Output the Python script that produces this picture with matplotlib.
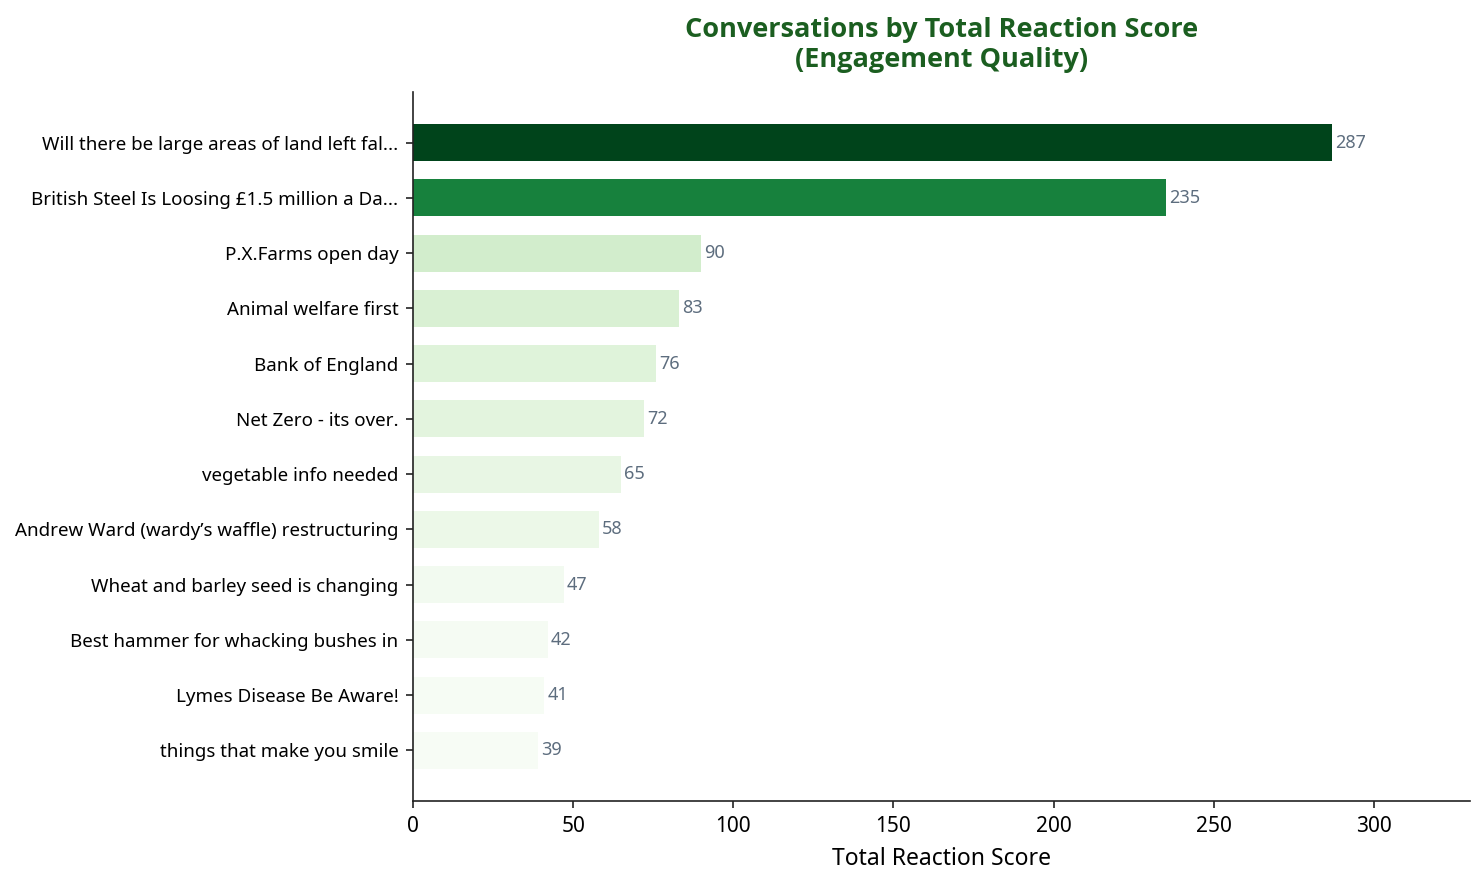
import matplotlib
matplotlib.use("Agg")
import matplotlib.pyplot as plt
from matplotlib import cm
from matplotlib.colors import Normalize

plt.rcParams['font.family'] = ['Noto Sans', 'DejaVu Sans']

titles = [
    "Will there be large areas of land left fal...",
    "British Steel Is Loosing £1.5 million a Da...",
    "P.X.Farms open day",
    "Animal welfare first",
    "Bank of England",
    "Net Zero - its over.",
    "vegetable info needed",
    "Andrew Ward (wardy\u2019s waffle) restructuring",
    "Wheat and barley seed is changing",
    "Best hammer for whacking bushes in",
    "Lymes Disease Be Aware!",
    "things that make you smile",
]
scores = [287, 235, 90, 83, 76, 72, 65, 58, 47, 42, 41, 39]

DPI = 150
fig = plt.figure(figsize=(1484 / DPI, 885 / DPI), dpi=DPI)
ax = fig.add_axes([413/1484, 1 - 801/885, (1470-413)/1484, (801-92)/885])

norm = Normalize(vmin=min(scores), vmax=max(scores))
colors = [cm.Greens(norm(v)) for v in scores]

ypos = list(range(len(titles)))[::-1]
ax.barh(ypos, scores, height=0.67, color=colors)
ax.set_yticks(ypos)
ax.set_yticklabels(titles, fontsize=9)
ax.set_xlim(0, max(scores) * 1.15)

for y, v in zip(ypos, scores):
    ax.text(v + 1, y, str(v), va='center', ha='left', fontsize=8.7, color='#5d6d7e')

ax.set_xlabel("Total Reaction Score", fontsize=11, labelpad=4.8)
ax.tick_params(axis='x', labelsize=10)
ax.tick_params(colors='#222222', labelcolor='black')
ax.set_title("Conversations by Total Reaction Score\n(Engagement Quality)",
             fontsize=13, fontweight='bold', color='#1b5e20', pad=12,
             family=['Open Sans', 'Noto Sans', 'DejaVu Sans'])
for s in ['top', 'right']:
    ax.spines[s].set_visible(False)
for s in ['left', 'bottom']:
    ax.spines[s].set_color('#222222')

fig.savefig("out.png", dpi=DPI)
